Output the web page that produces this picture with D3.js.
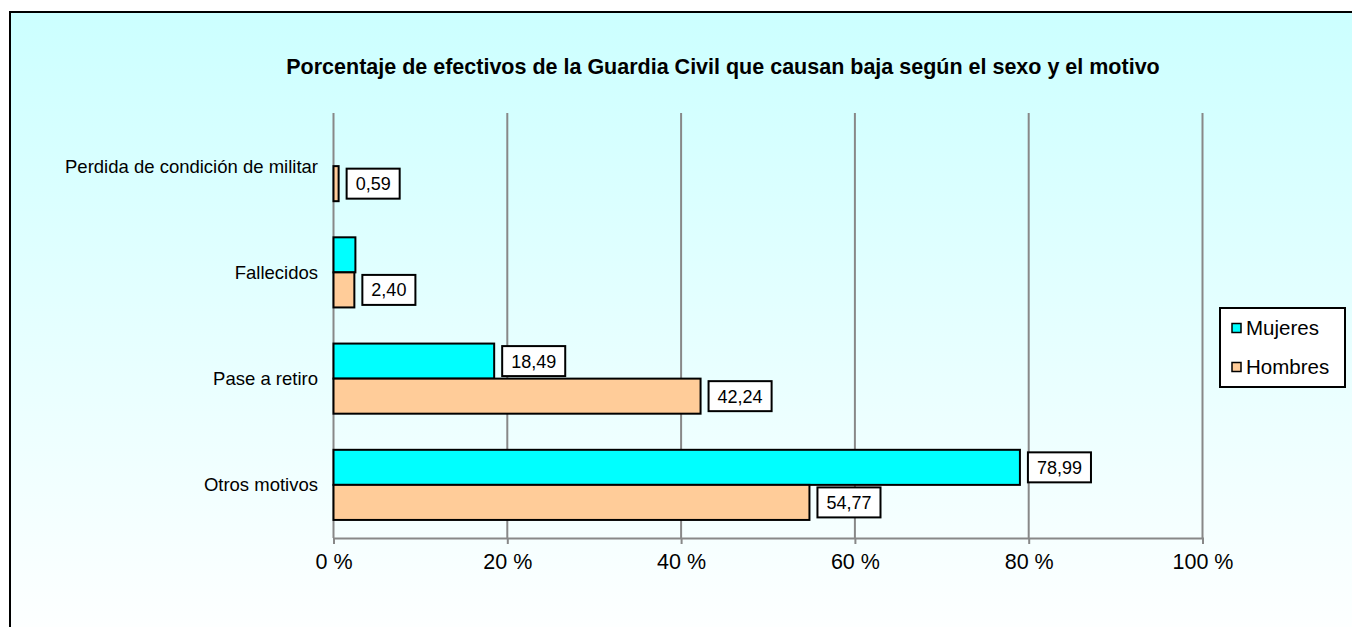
<!DOCTYPE html>
<html>
<head>
<meta charset="utf-8">
<script src="https://cdn.jsdelivr.net/npm/d3@7"></script>
<style>
    body { margin: 0; background: #fff; }
    svg { display: block; font-family: Arial, "Liberation Sans", sans-serif; }
</style>
</head>
<body>
<div id="chart"></div>
<script>
(function() {
    var categories = ["Perdida de condición de militar", "Fallecidos", "Pase a retiro", "Otros motivos"];
    var seriesNames = ["Mujeres", "Hombres"];
    var mujeres = [0, 2.52, 18.49, 78.99];
    var hombres = [0.59, 2.40, 42.24, 54.77];
    // which values carry a data label in the original
    var mujeresLabel = [false, false, true, true];
    var hombresLabel = [true, true, true, true];
    var tickValues = [0, 20, 40, 60, 80, 100];
    var colors = { Mujeres: "#00FFFF", Hombres: "#FFCC99" };

    var width = 1352, height = 627;
    var margin = { top: 113, left: 333.5, right: 1352 - 1202.5, bottom: 627 - 538 };

    var svg = d3.select("#chart").append("svg")
        .attr("width", width)
        .attr("height", height);

    var grad = svg.append("defs").append("linearGradient")
        .attr("id", "bg-grad")
        .attr("x1", "0%").attr("x2", "0%")
        .attr("y1", "0%").attr("y2", "100%");
    grad.append("stop").attr("offset", "0%").style("stop-color", "#CCFFFF");
    grad.append("stop").attr("offset", "100%").style("stop-color", "#FFFFFF");

    svg.append("rect")
        .attr("x", 10).attr("y", 12)
        .attr("width", 1360).attr("height", 640)
        .attr("fill", "url(#bg-grad)")
        .attr("stroke", "#000")
        .attr("stroke-width", 2);

    svg.append("text")
        .attr("x", 723)
        .attr("y", 74)
        .attr("text-anchor", "middle")
        .style("font-size", "21.5px")
        .style("font-weight", "bold")
        .text("Porcentaje de efectivos de la Guardia Civil que causan baja según el sexo y el motivo");

    var x = d3.scaleLinear().domain([0, 100]).range([margin.left, width - margin.right]);
    var y = d3.scaleBand().domain(categories).range([margin.top, height - margin.bottom]);
    // bars group occupies ~66% of each band
    var inner = d3.scaleBand().domain(seriesNames)
        .range([y.bandwidth() * 0.17, y.bandwidth() * 0.83]);

    // gridlines
    svg.append("g")
        .selectAll("line")
        .data(tickValues)
        .enter().append("line")
        .attr("x1", d => x(d)).attr("x2", d => x(d))
        .attr("y1", margin.top).attr("y2", height - margin.bottom)
        .attr("stroke", "#888").attr("stroke-width", 2);

    // x axis
    var xAxis = svg.append("g")
        .attr("transform", "translate(0," + (height - margin.bottom) + ")")
        .call(d3.axisBottom(x).tickValues(tickValues).tickSize(6).tickPadding(10).tickFormat(d => d + " %"));
    xAxis.select(".domain").attr("stroke", "#888").attr("stroke-width", 2);
    xAxis.selectAll(".tick line").attr("stroke", "#888").attr("stroke-width", 2);
    xAxis.selectAll(".tick text")
        .attr("fill", "#000")
        .style("font-size", "21.5px")
        .style("font-family", "Arial, 'Liberation Sans', sans-serif");

    // category labels
    svg.append("g")
        .selectAll("text")
        .data(categories)
        .enter().append("text")
        .attr("x", 318)
        .attr("y", d => y(d) + y.bandwidth() / 2)
        .attr("dy", "0.35em")
        .attr("text-anchor", "end")
        .style("font-size", "18.5px")
        .text(d => d);

    var rows = [];
    categories.forEach(function(c, i) {
        rows.push({ cat: c, series: "Mujeres", value: mujeres[i], label: mujeresLabel[i] });
        rows.push({ cat: c, series: "Hombres", value: hombres[i], label: hombresLabel[i] });
    });

    svg.append("g")
        .selectAll("rect")
        .data(rows.filter(d => d.value > 0))
        .enter().append("rect")
        .attr("x", x(0))
        .attr("y", d => y(d.cat) + inner(d.series))
        .attr("width", d => x(d.value) - x(0))
        .attr("height", inner.bandwidth())
        .attr("fill", d => colors[d.series])
        .attr("stroke", "#000")
        .attr("stroke-width", 2);

    // data labels
    var labels = svg.append("g")
        .selectAll("g")
        .data(rows.filter(d => d.label))
        .enter().append("g")
        .attr("transform", d => "translate(" + (x(d.value) + 8) + "," + (y(d.cat) + inner(d.series) + inner.bandwidth() / 2) + ")");

    labels.append("text")
        .attr("x", 9)
        .attr("dy", "0.36em")
        .style("font-size", "18px")
        .text(d => d.value.toFixed(2).replace(".", ","));

    labels.each(function() {
        var g = d3.select(this);
        var w = g.select("text").node().getComputedTextLength();
        g.insert("rect", "text")
            .attr("x", 0)
            .attr("y", -15)
            .attr("width", w + 18)
            .attr("height", 30)
            .attr("fill", "#fff")
            .attr("stroke", "#000")
            .attr("stroke-width", 2);
    });

    // legend
    var legend = svg.append("g").attr("transform", "translate(1220,308)");
    legend.append("rect")
        .attr("width", 125).attr("height", 79)
        .attr("fill", "#fff")
        .attr("stroke", "#000")
        .attr("stroke-width", 2);
    var item = legend.selectAll(".item")
        .data(seriesNames)
        .enter().append("g")
        .attr("class", "item")
        .attr("transform", (d, i) => "translate(12," + (20 + i * 39) + ")");
    item.append("rect")
        .attr("x", 0).attr("y", -4.5)
        .attr("width", 9).attr("height", 9)
        .attr("fill", d => colors[d])
        .attr("stroke", "#000")
        .attr("stroke-width", 1.5);
    item.append("text")
        .attr("x", 14)
        .attr("dy", "0.36em")
        .style("font-size", "20.5px")
        .text(d => d);
})();
</script>
</body>
</html>
